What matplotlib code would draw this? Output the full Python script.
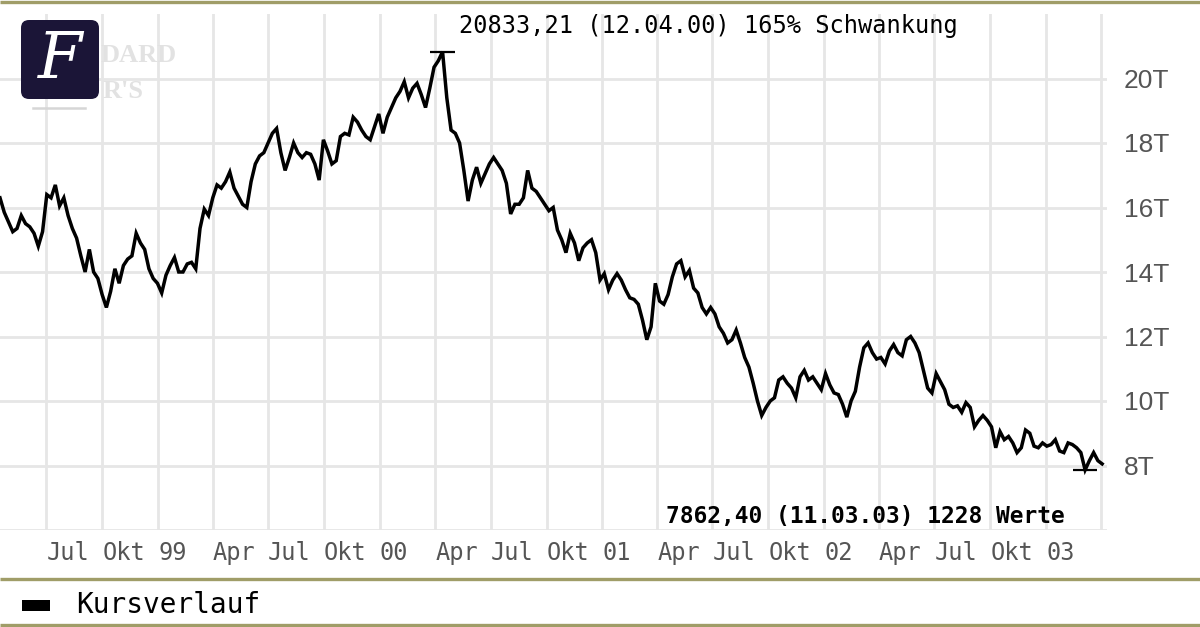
import pandas as pd
import matplotlib
matplotlib.use("Agg")
import matplotlib.pyplot as plt
from matplotlib.patches import FancyBboxPatch, Rectangle

# weekly values, first week starting 16.04.1998
values = [
    16300, 15850, 15550, 15250, 15350, 15750, 15500, 15400, 15200, 14800,
    15250, 16400, 16300, 16700, 16050, 16300, 15750, 15350, 15050, 14500,
    14000, 14700, 14000, 13800, 13300, 12900, 13400, 14100, 13650, 14200,
    14400, 14500, 15200, 14900, 14700, 14100, 13800, 13650, 13350, 13900,
    14200, 14450, 14000, 14000, 14250, 14300, 14100, 15350, 15950, 15750,
    16300, 16700, 16600, 16800, 17100, 16600, 16350, 16100, 16000, 16800,
    17350, 17600, 17700, 18000, 18300, 18450, 17700, 17150, 17550, 18000,
    17700, 17550, 17700, 17650, 17350, 16850, 18100, 17750, 17350, 17450,
    18200, 18300, 18250, 18800, 18650, 18400, 18200, 18100, 18500, 18900,
    18300, 18800, 19100, 19400, 19600, 19900, 19400, 19700, 19850, 19500,
    19100, 19700, 20350, 20550, 20833.21, 19400, 18400, 18300, 18000, 17150,
    16200, 16850, 17250, 16750, 17050, 17350, 17550, 17350, 17150, 16750,
    15800, 16100, 16100, 16300, 17150, 16600, 16500, 16300, 16100, 15900,
    16000, 15300, 15000, 14600, 15200, 14900, 14350, 14750, 14900, 15000,
    14600, 13750, 13950, 13450, 13750, 13950, 13750, 13450, 13200, 13150,
    13000, 12500, 11900, 12300, 13650, 13100, 13000, 13300, 13850, 14250,
    14350, 13850, 14050, 13500, 13350, 12900, 12700, 12900, 12700, 12300,
    12100, 11800, 11900, 12200, 11800, 11350, 11050, 10550, 10000, 9550,
    9800, 10000, 10100, 10650, 10750, 10550, 10400, 10100, 10750, 10950,
    10650, 10750, 10550, 10350, 10850, 10500, 10250, 10200, 9900, 9500,
    10000, 10300, 11050, 11650, 11800, 11500, 11300, 11350, 11150, 11550,
    11750, 11500, 11400, 11900, 12000, 11800, 11500, 10950, 10400, 10250,
    10850, 10600, 10350, 9900, 9800, 9850, 9650, 9950, 9800, 9200,
    9400, 9550, 9400, 9200, 8550, 9050, 8800, 8900, 8700, 8400,
    8550, 9100, 9000, 8600, 8550, 8700, 8600, 8650, 8800, 8450,
    8400, 8700, 8650, 8550, 8400, 7862.40, 8150, 8400, 8150, 8050,
]
dates = pd.date_range("1998-04-16", periods=len(values), freq="7D")

quarter_starts = pd.to_datetime([
    "1998-07-01", "1998-10-01", "1999-01-01", "1999-04-01", "1999-07-01",
    "1999-10-01", "2000-01-01", "2000-04-01", "2000-07-01", "2000-10-01",
    "2001-01-01", "2001-04-01", "2001-07-01", "2001-10-01", "2002-01-01",
    "2002-04-01", "2002-07-01", "2002-10-01", "2003-01-01", "2003-04-01",
])
quarter_labels = ["Jul", "Okt", "99", "Apr", "Jul", "Okt", "00", "Apr", "Jul",
                  "Okt", "01", "Apr", "Jul", "Okt", "02", "Apr", "Jul", "Okt",
                  "03", ""]
y_ticks = [6000, 8000, 10000, 12000, 14000, 16000, 18000, 20000]
y_labels = ["", "8T", "10T", "12T", "14T", "16T", "18T", "20T"]

max_text = "20833,21 (12.04.00) 165% Schwankung"
min_text = "7862,40 (11.03.03) 1228 Werte"
legend_label = "Kursverlauf"

W, H = 1200, 627
olive = "#a09d68"
grid_c = "#e6e6e6"
mono = "DejaVu Sans Mono"

fig = plt.figure(figsize=(W / 100, H / 100), dpi=100)
fig.patch.set_facecolor("white")

# main chart area
ax = fig.add_axes([0, (H - 530) / H, 1107 / W, 516 / H])
ax.plot(dates, values, color="black", lw=2.5, solid_joinstyle="miter", zorder=3)

s = pd.Series(values, index=dates)
half = pd.Timedelta(days=20)
ax.hlines(s.max(), s.idxmax() - half, s.idxmax() + half, color="black", lw=1.6, zorder=3)
ax.hlines(s.min(), s.idxmin() - half, s.idxmin() + half, color="black", lw=1.6, zorder=3)

ax.set_xlim(pd.Timestamp("1998-04-16"), pd.Timestamp("2003-04-11"))
ax.set_ylim(6000, 22000)
ax.set_xticks(quarter_starts)
ax.set_xticklabels(quarter_labels, ha="left", fontfamily=mono, fontsize=17, color="#555555")
ax.yaxis.tick_right()
ax.set_yticks(y_ticks)
ax.set_yticklabels(y_labels, fontfamily="Liberation Sans", fontsize=19, color="#555555")
ax.tick_params(axis="both", length=0)
ax.tick_params(axis="x", pad=8)
ax.tick_params(axis="y", pad=12)
ax.grid(True, color=grid_c, lw=2.0, zorder=0)
for sp in ax.spines.values():
    sp.set_visible(False)

# overlay in pixel coordinates for frame, logo and texts
ov = fig.add_axes([0, 0, 1, 1], zorder=5)
ov.set_xlim(0, W)
ov.set_ylim(H, 0)
ov.axis("off")
ov.patch.set_alpha(0)

for yy in (1.5, 578.5, 624.5):
    ov.plot([0, W], [yy, yy], color=olive, lw=2.4, solid_capstyle="butt")

# faint watermark, mostly hidden behind the logo
ov.text(101, 55, "DARD", ha="left", va="center", fontfamily="Liberation Serif",
        fontweight="bold", fontsize=19, color="#e2e2e2", zorder=1)
ov.text(103, 92, "R'S", ha="left", va="center", fontfamily="Liberation Serif",
        fontweight="bold", fontsize=19, color="#e2e2e2", zorder=1)
ov.plot([33, 85], [108, 108], color="#d6d6d6", lw=1.8, zorder=1)
logo = FancyBboxPatch((21, 20), 78, 79, boxstyle="round,pad=0,rounding_size=8",
                      facecolor="#1b1537", edgecolor="none", zorder=2)
ov.add_patch(logo)
ov.text(60, 61, "F", ha="center", va="center", fontfamily="DejaVu Serif",
        fontstyle="italic", fontsize=46, color="white", zorder=3)

ov.text(708, 26, max_text, ha="center", va="center", fontfamily=mono,
        fontsize=17, color="black")
ov.text(1065, 517, min_text, ha="right", va="center", fontfamily=mono,
        fontsize=16.5, fontweight="bold", color="black")

ov.add_patch(Rectangle((22, 600), 28, 11, facecolor="black", edgecolor="none"))
ov.text(76, 605, legend_label, ha="left", va="center", fontfamily=mono,
        fontsize=20, color="black")

fig.savefig("out.png", dpi=100, facecolor="white")
